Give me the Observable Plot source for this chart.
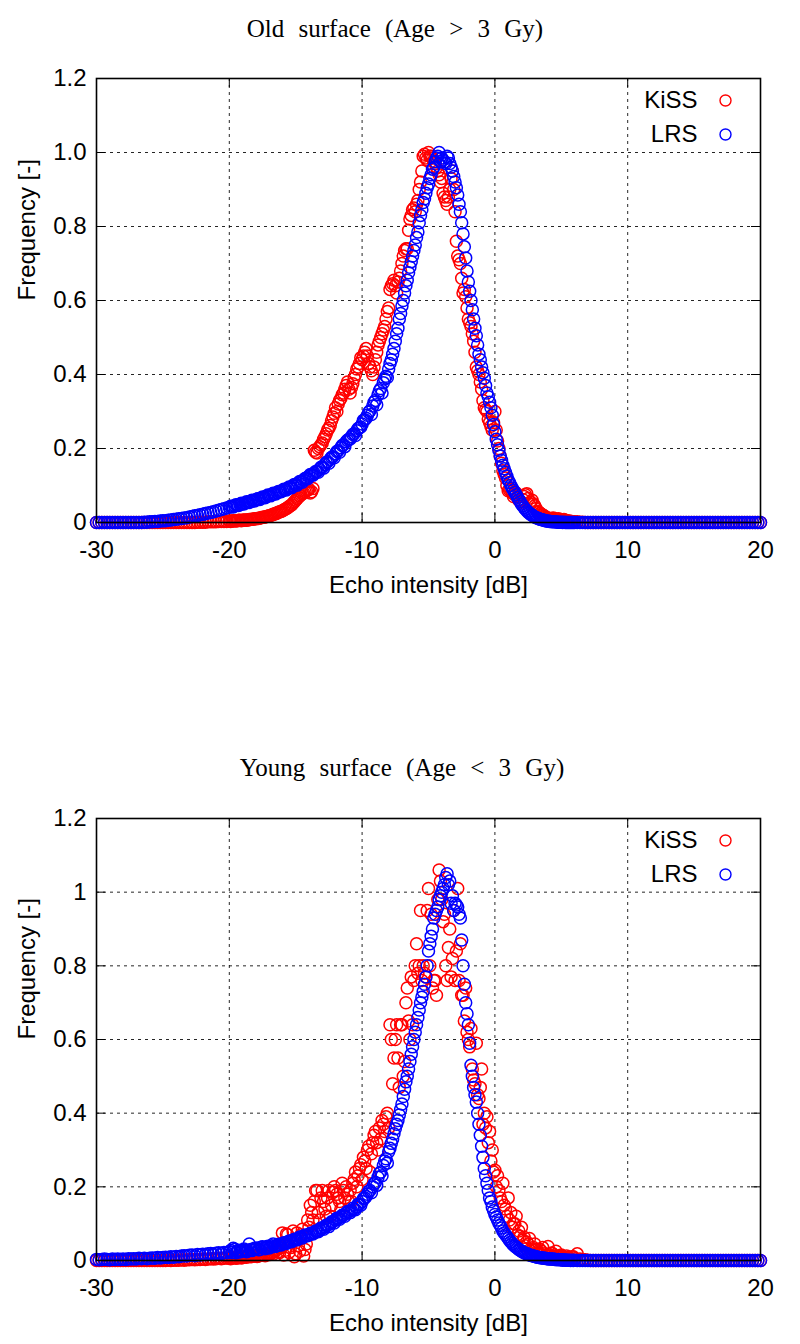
<!DOCTYPE html>
<html>
<head>
<meta charset="utf-8">
<script src="https://cdn.jsdelivr.net/npm/d3@7"></script>
<script src="https://cdn.jsdelivr.net/npm/@observablehq/plot@0.6"></script>
<style>
  html, body { margin: 0; padding: 0; background: #fff; }
  #page { position: relative; width: 800px; height: 1344px; background: #fff; overflow: hidden; }
  .title { position: absolute; left: 0; text-align: center; font-family: "Liberation Serif", "Times New Roman", serif;
           font-size: 25px; line-height: 25px; word-spacing: 8px; color: #000; white-space: nowrap; }
  .chart { position: absolute; left: 0; }
</style>
</head>
<body>
<div id="page"></div>
<script>
// ---- bins: Echo intensity [dB] ----
// main bins: -30 .. 20 every 0.2 dB; extra bins: -19.9 .. 5.9 every 0.2 dB
const binStart = -30;
const midStart = -19.9;
const binStep = 0.2;

// ---- tick values and labels ----
const xTicks = [-30, -20, -10, 0, 10, 20];
const xTickLabels = ["-30", "-20", "-10", "0", "10", "20"];
const yTicks = [0, 0.2, 0.4, 0.6, 0.8, 1.0, 1.2];
const oldYTickLabels = ["0", "0.2", "0.4", "0.6", "0.8", "1.0", "1.2"];
const youngYTickLabels = ["0", "0.2", "0.4", "0.6", "0.8", "1", "1.2"];

const titles = ["Old surface (Age > 3 Gy)", "Young surface (Age < 3 Gy)"];
const seriesNames = ["KiSS", "LRS"];
const xLabel = "Echo intensity [dB]";
const yLabel = "Frequency [-]";

// ---- Old surface ----
const oldKiSS = [
0,0,0,0,0,0,0,0,0,0,
0,0,0,0,0,0,0,0,0,0,
0,0,0,0,0,0,0,0,0,0,
0,0,0,0,0,0,0,0,.001,.001,
.001,.001,.002,.002,.002,.002,.003,.003,.003,.003,
.004,.004,.005,.005,.006,.006,.007,.007,.008,.009,
.010,.011,.013,.014,.016,.018,.020,.023,.026,.029,
.032,.036,.040,.045,.052,.060,.068,.075,.080,.086,
.090,.083,.195,.188,.205,.215,.232,.250,.262,.285,
.31,.32,.335,.35,.37,.36,.365,.39,.415,.43,
.44,.46,.45,.42,.40,.44,.48,.50,.52,.55,
.58,.64,.655,.62,.66,.70,.735,.74,.82,.845,
.84,.87,.92,.99,.985,1.0,.99,.975,.96,.94,
.93,.88,.86,.90,.95,.84,.72,.70,.62,.61,
.55,.53,.49,.42,.40,.36,.31,.30,.27,.25,
.30,.22,.18,.14,.12,.086,.09,.07,.08,.06,
.055,.07,.078,.05,.06,.045,.03,.025,.02,.015,
.012,.01,.012,.008,.01,.006,.008,.005,.004,.003,
.002,.002,.001,.001,0,0,0,0,0,0,
0,0,0,0,0,0,0,0,0,0,
0,0,0,0,0,0,0,0,0,0,
0,0,0,0,0,0,0,0,0,0,
0,0,0,0,0,0,0,0,0,0,
0,0,0,0,0,0,0,0,0,0,
0,0,0,0,0,0,0,0,0,0,
0
];
const oldKiSSMid = [
.003,.005,.004,.006,.005,.007,.006,.008,.009,.010,
.011,.012,.014,.015,.017,.019,.022,.024,.028,.030,
.034,.038,.043,.048,.056,.064,.072,.078,.083,.088,
.080,.092,.19,.20,.21,.225,.24,.255,.275,.295,
.30,.33,.345,.36,.38,.35,.375,.40,.42,.445,
.45,.47,.43,.41,.42,.46,.49,.51,.53,.57,
.63,.645,.64,.65,.68,.72,.74,.79,.83,.85,
.86,.90,.95,.995,.98,.99,.985,.97,.95,.92,
.89,.87,.88,.93,.90,.76,.71,.66,.63,.58,
.54,.51,.46,.41,.38,.33,.305,.28,.26,.27,
.25,.20,.16,.13,.10,.088,.08,.075,.07,.058,
.062,.075,.065,.055,.05,.038,.028,.022,.018,.013,
.011,.011,.01,.009,.007,.007,.006,.004,.003,.002
];
const oldLRS = [
0,0,0,0,0,0,0,0,0,0,
0,0,0,0,0,0,0,0,.001,.001,
.002,.002,.003,.003,.004,.005,.005,.006,.007,.008,
.009,.010,.011,.012,.013,.015,.016,.018,.019,.021,
.022,.024,.026,.027,.029,.031,.033,.035,.037,.039,
.041,.043,.045,.047,.049,.051,.053,.055,.057,.059,
.061,.063,.066,.068,.070,.073,.075,.078,.081,.083,
.086,.089,.092,.095,.099,.103,.107,.111,.115,.120,
.125,.129,.133,.138,.144,.150,.157,.164,.171,.178,
.186,.194,.202,.210,.218,.225,.232,.240,.248,.256,
.266,.278,.290,.302,.315,.330,.345,.362,.378,.395,
.415,.44,.47,.51,.55,.585,.62,.655,.69,.72,
.75,.785,.83,.865,.89,.915,.94,.96,.985,1.0,
.985,.975,.99,.97,.95,.92,.885,.84,.78,.715,
.65,.6,.55,.505,.455,.42,.39,.35,.325,.29,
.245,.21,.18,.155,.135,.115,.1,.087,.075,.062,
.05,.04,.032,.025,.02,.015,.012,.009,.007,.005,
.004,.003,.002,.002,.001,.001,.001,0,0,0,
0,0,0,0,0,0,0,0,0,0,
0,0,0,0,0,0,0,0,0,0,
0,0,0,0,0,0,0,0,0,0,
0,0,0,0,0,0,0,0,0,0,
0,0,0,0,0,0,0,0,0,0,
0,0,0,0,0,0,0,0,0,0,
0,0,0,0,0,0,0,0,0,0,
0
];
const oldLRSMid = [
.044,.042,.048,.046,.052,.050,.056,.054,.060,.058,
.064,.062,.069,.067,.074,.072,.079,.077,.084,.083,
.090,.088,.096,.094,.103,.101,.111,.109,.119,.118,
.130,.128,.138,.136,.149,.147,.162,.160,.176,.175,
.192,.190,.208,.205,.222,.226,.238,.235,.254,.258,
.276,.282,.298,.292,.325,.318,.356,.350,.388,.392,
.43,.455,.49,.525,.565,.60,.64,.675,.705,.735,
.77,.81,.845,.875,.905,.93,.955,.975,.99,.975,
.98,.97,.985,.96,.935,.905,.86,.81,.745,.68,
.625,.575,.525,.48,.44,.405,.37,.34,.31,.265,
.225,.195,.168,.145,.125,.108,.093,.081,.068,.056,
.045,.036,.028,.022,.017,.013,.010,.008,.006,.004,
.003,.002,.002,.001,.001,0,0,0,0,0
];

// ---- Young surface ----
const youngKiSS = [
0,0,0,0,0,0,0,0,0,0,
0,0,0,0,0,0,0,0,0,0,
0,0,0,0,0,0,0,.001,0,.001,
.001,.001,.002,.001,.002,.002,.003,.002,.003,.003,
.004,.003,.004,.005,.004,.005,.006,.005,.006,.007,
.006,.007,.008,.007,.009,.008,.010,.011,.010,.012,
.013,.012,.015,.014,.017,.016,.020,.025,.030,.022,
.075,.028,.070,.035,.08,.018,.04,.07,.012,.045,
.09,.13,.16,.19,.11,.19,.14,.17,.12,.185,
.19,.17,.14,.19,.2,.16,.16,.22,.2,.25,
.22,.27,.3,.24,.32,.35,.3,.33,.37,.39,
.36,.60,.55,.64,.47,.64,.54,.74,.60,.64,
.80,.78,.95,.80,.77,1.01,.94,.76,.72,1.06,
.98,.94,.76,.90,.82,.76,1.01,.86,.72,.74,
.60,.63,.49,.59,.44,.52,.40,.39,.35,.30,
.245,.23,.17,.21,.14,.17,.13,.1,.12,.08,
.09,.063,.05,.06,.03,.045,.02,.03,.035,.015,
.038,.02,.012,.025,.01,.015,.008,.012,.006,.01,
.005,.018,.004,.003,.002,.001,0,0,0,0,
0,0,0,0,0,0,0,0,0,0,
0,0,0,0,0,0,0,0,0,0,
0,0,0,0,0,0,0,0,0,0,
0,0,0,0,0,0,0,0,0,0,
0,0,0,0,0,0,0,0,0,0,
0,0,0,0,0,0,0,0,0,0,
0
];
const youngKiSSMid = [
.005,.008,.006,.009,.007,.010,.009,.012,.011,.013,
.011,.014,.016,.013,.018,.021,.017,.028,.024,.035,
.015,.072,.022,.05,.01,.075,.025,.085,.03,.11,
.15,.11,.19,.13,.17,.16,.12,.19,.15,.20,
.18,.16,.21,.17,.18,.19,.21,.24,.23,.26,
.28,.25,.31,.29,.34,.32,.36,.38,.35,.40,
.64,.48,.60,.55,.64,.50,.70,.65,.77,.76,
.86,.80,.76,.78,.95,.80,.74,.76,.98,1.03,
.92,.80,.85,.77,.95,.84,.76,.72,.65,.62,
.58,.52,.48,.45,.47,.37,.36,.32,.27,.24,
.20,.19,.16,.15,.12,.11,.09,.10,.07,.065,
.055,.04,.045,.025,.035,.03,.02,.025,.018,.012,
.015,.02,.01,.012,.009,.011,.007,.008,.005,.01
];
const youngLRS = [
.003,.002,.003,.004,.003,.002,.004,.003,.004,.003,
.004,.003,.005,.004,.005,.004,.006,.005,.006,.005,
.006,.007,.006,.008,.007,.008,.009,.008,.010,.009,
.011,.010,.012,.013,.012,.014,.015,.013,.016,.015,
.017,.016,.018,.019,.017,.020,.021,.019,.022,.021,
.024,.022,.030,.025,.023,.027,.028,.026,.030,.029,
.031,.029,.036,.033,.035,.034,.040,.038,.041,.043,
.045,.047,.050,.052,.055,.057,.060,.063,.066,.068,
.070,.073,.076,.079,.083,.087,.091,.096,.100,.105,
.110,.114,.118,.123,.128,.133,.136,.139,.145,.152,
.160,.170,.180,.190,.200,.212,.226,.240,.258,.276,
.295,.318,.344,.37,.395,.425,.465,.50,.54,.58,
.62,.66,.70,.73,.77,.84,.88,.93,.95,.98,
1.0,1.02,1.05,1.03,.99,.97,.96,.93,.80,.70,
.64,.53,.47,.43,.37,.31,.25,.21,.17,.145,
.125,.11,.095,.08,.07,.06,.05,.042,.036,.03,
.025,.021,.018,.015,.013,.011,.009,.008,.007,.006,
.005,.004,.004,.003,.003,.002,.002,.001,.001,.001,
.001,0,0,0,0,0,0,0,0,0,
0,0,0,0,0,0,0,0,0,0,
0,0,0,0,0,0,0,0,0,0,
0,0,0,0,0,0,0,0,0,0,
0,0,0,0,0,0,0,0,0,0,
0,0,0,0,0,0,0,0,0,0,
0,0,0,0,0,0,0,0,0,0,
0
];
const youngLRSMid = [
.027,.033,.021,.028,.025,.031,.024,.045,.027,.033,
.034,.030,.037,.032,.039,.036,.045,.039,.044,.042,
.048,.046,.053,.051,.058,.056,.064,.061,.069,.067,
.074,.072,.080,.078,.088,.085,.096,.092,.105,.102,
.115,.112,.123,.120,.133,.130,.142,.138,.153,.150,
.168,.174,.188,.184,.208,.204,.236,.230,.270,.265,
.305,.33,.358,.38,.41,.445,.485,.52,.56,.60,
.64,.68,.715,.75,.80,.86,.90,.94,.96,.99,
1.01,1.04,1.02,.97,.95,.965,.94,.87,.75,.67,
.59,.50,.45,.40,.34,.28,.23,.19,.16,.135,
.118,.102,.088,.075,.065,.055,.046,.039,.033,.028,
.023,.020,.017,.014,.012,.010,.008,.007,.006,.005,
.004,.004,.003,.002,.002,.001,.001,.001,0,0
];

const colors = {KiSS: "#ff0000", LRS: "#0000ff"};

function toRows(values, start) {
  return values.map((v, i) => ({dB: start + i * binStep, f: v}));
}

function makeChart(kiss, kissMid, lrs, lrsMid, yTickLabels, marginBottom) {
  const W = 800, H = 544, mT = 22, mL = 96, mR = 40, mB = marginBottom;
  const frameH = H - mT - mB, frameW = W - mL - mR;
  const tickLen = 9;
  const fmtX = d => xTickLabels[xTicks.indexOf(d)];
  const fmtY = d => yTickLabels[yTicks.indexOf(d)];
  const kissRows = toRows(kiss, binStart).concat(toRows(kissMid, midStart));
  const lrsRows = toRows(lrs, binStart).concat(toRows(lrsMid, midStart));
  return Plot.plot({
    width: W, height: H,
    marginTop: mT, marginBottom: mB, marginLeft: mL, marginRight: mR,
    style: {fontFamily: "'Liberation Sans', Arial, Helvetica, sans-serif", fontSize: "24px", color: "#000", background: "#fff", overflow: "visible"},
    x: {domain: [-30, 20]},
    y: {domain: [0, 1.2]},
    marks: [
      Plot.gridX(xTicks, {stroke: "#000", strokeOpacity: 0.85, strokeWidth: 1, strokeDasharray: "3,4"}),
      Plot.gridY(yTicks, {stroke: "#000", strokeOpacity: 0.85, strokeWidth: 1, strokeDasharray: "3,4"}),
      Plot.ruleX(xTicks, {x: d => d, insetTop: frameH - tickLen, stroke: "#000", strokeWidth: 1}),
      Plot.ruleX(xTicks, {x: d => d, insetBottom: frameH - tickLen, stroke: "#000", strokeWidth: 1}),
      Plot.ruleY(yTicks, {y: d => d, insetRight: frameW - tickLen, stroke: "#000", strokeWidth: 1}),
      Plot.ruleY(yTicks, {y: d => d, insetLeft: frameW - tickLen, stroke: "#000", strokeWidth: 1}),
      Plot.axisX(xTicks, {tickSize: 0, tickPadding: 18, tickFormat: fmtX, label: null}),
      Plot.axisY(yTicks, {tickSize: 0, tickPadding: 10, tickFormat: fmtY, label: null}),
      Plot.text([xLabel], {text: d => d, frameAnchor: "bottom", dy: 63, lineAnchor: "middle", fontSize: 24}),
      Plot.text([yLabel], {text: d => d, frameAnchor: "left", dx: -69, rotate: -90, lineAnchor: "middle", fontSize: 24}),
      Plot.dot(kissRows, {x: "dB", y: "f", r: 6, stroke: colors.KiSS, strokeWidth: 1.5, fill: "none"}),
      Plot.dot(lrsRows, {x: "dB", y: "f", r: 6, stroke: colors.LRS, strokeWidth: 1.5, fill: "none"}),
      Plot.frame({stroke: "#000", strokeWidth: 1.6}),
      Plot.text([seriesNames[0]], {text: d => d, frameAnchor: "top-right", dx: -63, dy: 22, textAnchor: "end", lineAnchor: "middle", fontSize: 24}),
      Plot.text([seriesNames[1]], {text: d => d, frameAnchor: "top-right", dx: -63, dy: 56, textAnchor: "end", lineAnchor: "middle", fontSize: 24}),
      Plot.dot([seriesNames[0]], {frameAnchor: "top-right", dx: -35, dy: 22, r: 5.5, stroke: colors.KiSS, strokeWidth: 1.4, fill: "none"}),
      Plot.dot([seriesNames[1]], {frameAnchor: "top-right", dx: -35, dy: 56, r: 5.5, stroke: colors.LRS, strokeWidth: 1.4, fill: "none"})
    ]
  });
}

const page = document.getElementById("page");

function addTitle(text, top, width) {
  const t = document.createElement("div");
  t.className = "title";
  t.style.top = top + "px";
  t.style.width = width + "px";
  t.textContent = text;
  page.appendChild(t);
}
function addChart(svg, top) {
  const d = document.createElement("div");
  d.className = "chart";
  d.style.top = top + "px";
  d.appendChild(svg);
  page.appendChild(d);
}

addTitle(titles[0], 16, 790);
addChart(makeChart(oldKiSS, oldKiSSMid, oldLRS, oldLRSMid, oldYTickLabels, 78), 56);
addTitle(titles[1], 755, 804);
addChart(makeChart(youngKiSS, youngKiSSMid, youngLRS, youngLRSMid, youngYTickLabels, 80), 796);
</script>
</body>
</html>
